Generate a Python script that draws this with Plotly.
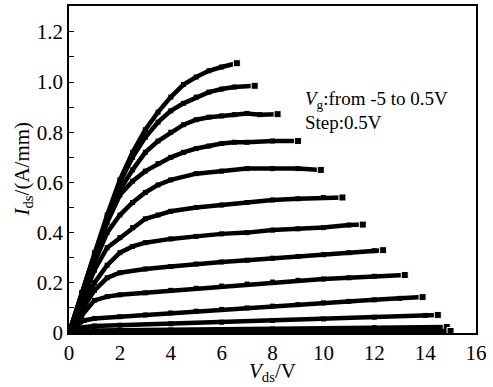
import plotly.graph_objects as go

# Each curve: (Vds values, Ids values)
c1_x = [0, 0.5, 1, 1.5, 2, 2.5, 3, 3.5, 4, 4.5, 5, 5.5, 6, 6.6]
c1_y = [0, 0.16, 0.32, 0.47, 0.61, 0.72, 0.81, 0.88, 0.94, 0.99, 1.02, 1.045, 1.06, 1.075]
c2_x = [0, 0.5, 1, 1.5, 2, 2.5, 3, 3.5, 4, 4.5, 5, 5.5, 6, 6.5, 7.3]
c2_y = [0, 0.16, 0.315, 0.46, 0.6, 0.7, 0.78, 0.84, 0.885, 0.915, 0.94, 0.96, 0.972, 0.98, 0.985]
c3_x = [0, 0.5, 1, 1.5, 2, 2.5, 3, 3.5, 4, 4.5, 5, 5.5, 6, 6.5, 7, 7.5, 8.2]
c3_y = [0, 0.155, 0.31, 0.45, 0.57, 0.65, 0.72, 0.765, 0.8, 0.83, 0.85, 0.86, 0.865, 0.87, 0.875, 0.87, 0.872]
c4_x = [0, 0.5, 1, 1.5, 2, 2.5, 3, 3.5, 4, 4.5, 5, 5.5, 6, 6.5, 7, 8, 9.0]
c4_y = [0, 0.15, 0.3, 0.44, 0.55, 0.605, 0.645, 0.675, 0.7, 0.72, 0.735, 0.745, 0.755, 0.76, 0.76, 0.765, 0.765]
c5_x = [0, 0.5, 1, 1.5, 2, 2.5, 3, 3.5, 4, 5, 6, 7, 8, 9, 9.9]
c5_y = [0, 0.145, 0.28, 0.4, 0.47, 0.52, 0.56, 0.59, 0.61, 0.635, 0.645, 0.655, 0.655, 0.655, 0.65]
c6_x = [0, 0.5, 1, 1.5, 2, 2.5, 3, 3.5, 4, 5, 6, 7, 8, 9, 10, 10.75]
c6_y = [0, 0.13, 0.25, 0.34, 0.38, 0.42, 0.455, 0.47, 0.485, 0.5, 0.51, 0.52, 0.53, 0.535, 0.54, 0.54]
c7_x = [0, 0.5, 1, 1.5, 2, 2.5, 3, 4, 5, 6, 7, 8, 9, 10, 11, 11.55]
c7_y = [0, 0.11, 0.2, 0.27, 0.32, 0.345, 0.36, 0.375, 0.385, 0.395, 0.4, 0.41, 0.415, 0.42, 0.43, 0.432]
c8_x = [0, 0.5, 1, 1.5, 2, 3, 4, 5, 6, 7, 8, 9, 10, 11, 12, 12.35]
c8_y = [0, 0.09, 0.17, 0.22, 0.24, 0.255, 0.265, 0.275, 0.283, 0.29, 0.298, 0.305, 0.312, 0.32, 0.328, 0.33]
c9_x = [0, 0.5, 1, 1.5, 2, 3, 4, 5, 6, 7, 8, 9, 10, 11, 12, 13.2]
c9_y = [0, 0.07, 0.13, 0.145, 0.152, 0.16, 0.17, 0.178, 0.187, 0.195, 0.203, 0.21, 0.215, 0.22, 0.226, 0.231]
c10_x = [0, 0.3, 0.6, 1, 2, 3, 4, 5, 6, 7, 8, 9, 10, 11, 12, 13, 13.9]
c10_y = [0, 0.03, 0.05, 0.058, 0.065, 0.072, 0.08, 0.087, 0.094, 0.1, 0.107, 0.113, 0.12, 0.126, 0.132, 0.138, 0.143]
c11_x = [0, 0.3, 1, 2, 4, 6, 8, 10, 12, 14, 14.5]
c11_y = [0, 0.02, 0.028, 0.031, 0.037, 0.043, 0.05, 0.056, 0.063, 0.07, 0.072]
c12_x = [0, 0.3, 1, 4, 8, 12, 14.85]
c12_y = [0, 0.008, 0.01, 0.012, 0.016, 0.021, 0.024]
c13_x = [0, 1, 5, 10, 15.0]
c13_y = [0, 0.003, 0.004, 0.006, 0.008]

curves = [(c1_x, c1_y), (c2_x, c2_y), (c3_x, c3_y), (c4_x, c4_y), (c5_x, c5_y),
          (c6_x, c6_y), (c7_x, c7_y), (c8_x, c8_y), (c9_x, c9_y), (c10_x, c10_y),
          (c11_x, c11_y), (c12_x, c12_y), (c13_x, c13_y)]

x_ticks = [0, 2, 4, 6, 8, 10, 12, 14, 16]
x_labels = ["0", "2", "4", "6", "8", "10", "12", "14", "16"]
y_ticks = [0, 0.2, 0.4, 0.6, 0.8, 1.0, 1.2]
y_labels = ["0", "0.2", "0.4", "0.6", "0.8", "1.0", "1.2"]

FONT = "Liberation Serif, DejaVu Serif, serif"

fig = go.Figure()
for xs, ys in curves:
    fig.add_trace(go.Scatter(
        x=xs, y=ys, mode="lines+markers",
        line=dict(color="black", width=4.5),
        marker=dict(symbol="square", size=5, color="black"),
        showlegend=False, hoverinfo="skip"))
    fig.add_trace(go.Scatter(
        x=[xs[-1]], y=[ys[-1]], mode="markers",
        marker=dict(symbol="square", size=7, color="black",
                    line=dict(color="white", width=1)),
        showlegend=False, hoverinfo="skip"))

fig.update_layout(
    width=493, height=387,
    margin=dict(l=69, r=17, t=6, b=54, autoexpand=False),
    paper_bgcolor="white", plot_bgcolor="white",
    font=dict(family=FONT, size=21, color="black"),
    xaxis=dict(range=[0, 16], tickvals=x_ticks, ticktext=x_labels,
               ticks="inside", ticklen=5, tickwidth=1.2, tickcolor="black",
               showline=True, linecolor="black", linewidth=1.5, mirror=True,
               showgrid=False, zeroline=False, automargin=False,
               tickfont=dict(family=FONT, size=21)),
    yaxis=dict(range=[0, 1.303], tickvals=y_ticks, ticktext=y_labels,
               ticks="inside", ticklen=5, tickwidth=1.2, tickcolor="black",
               minor=dict(ticks="inside", ticklen=5, dtick=0.1, tickcolor="black", tickwidth=1.2),
               showline=True, linecolor="black", linewidth=1.5, mirror=True,
               showgrid=False, zeroline=False, automargin=False,
               tickfont=dict(family=FONT, size=21)),
    annotations=[
        dict(x=0.5, y=0, xref="paper", yref="paper", xanchor="center", yanchor="top",
             yshift=-24, text="<i>V</i><sub>ds</sub>/V", showarrow=False,
             font=dict(family=FONT, size=21, color="black")),
        dict(x=0, y=0.5, xref="paper", yref="paper", xanchor="center", yanchor="middle",
             xshift=-47, textangle=-90, text="<i>I</i><sub>ds</sub>/(A/mm)", showarrow=False,
             font=dict(family=FONT, size=21, color="black")),
        dict(x=9.2, y=0.93, xref="x", yref="y", xanchor="left", yanchor="middle",
             text="<i>V</i><sub>g</sub>:from -5 to 0.5V", showarrow=False,
             font=dict(family=FONT, size=19, color="black")),
        dict(x=9.2, y=0.84, xref="x", yref="y", xanchor="left", yanchor="middle",
             text="Step:0.5V", showarrow=False,
             font=dict(family=FONT, size=19, color="black")),
    ],
)

fig.write_html("out.html", config={"displayModeBar": False},
               post_script="document.body.style.margin='0';document.body.style.padding='0';")
